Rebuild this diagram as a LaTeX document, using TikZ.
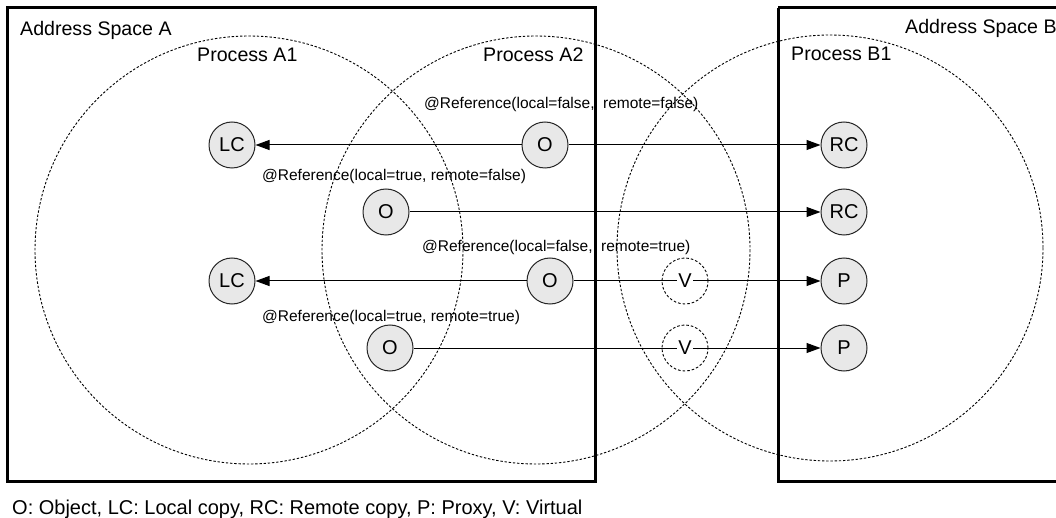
\documentclass[tikz,border=0pt]{standalone}
\usepackage{fontspec}
\setmainfont{Liberation Sans}
\usetikzlibrary{arrows.meta}
\begin{document}
\begin{tikzpicture}[x=1pt,y=-1pt,
  space/.style={draw=black,line width=3pt},
  proc/.style={draw=black,line width=0.9pt,dash pattern=on 2.4pt off 1.8pt},
  title/.style={anchor=base west,inner sep=0pt,font=\fontsize{19.6}{22}\selectfont},
  reflabel/.style={anchor=base west,inner sep=0pt,font=\fontsize{15.5}{18}\selectfont},
  obj/.style={circle,draw=black!85,line width=1pt,fill=black!9,minimum size=46pt,inner sep=0pt,font=\fontsize{20}{22}\selectfont},
  virtring/.style={circle,draw=black,line width=0.9pt,dash pattern=on 2.6pt off 2pt,minimum size=46pt,inner sep=0pt},
  virt/.style={inner sep=1.5pt,font=\fontsize{20}{22}\selectfont},
  conn/.style={draw=black,line width=1pt},
  arr/.style={conn,-{Triangle[length=14pt,width=10pt]}}]
\useasboundingbox (0,0) rectangle (1056,518);

% address spaces
\draw[space] (7,8) rectangle (595,481);
\draw[space] (778,8) -- (1060,8);
\draw[space] (778,8) -- (778,481) -- (1060,481);

% process boundaries
\draw[proc] (249,250) circle[radius=214];
\draw[proc] (536,250) circle[radius=214];
\draw[proc] (830,248) circle[radius=213];

% headings
\node[title] (asA) at (20,36) {Address Space A};
\node[title] (pA1) at (197,62) {Process A1};
\node[title] (pA2) at (483,62) {Process A2};
\node[title] (asB) at (905,34) {Address Space B};
\node[title] (pB1) at (791,61) {Process B1};

% objects
\node[obj] (lc1) at (232,145) {LC};
\node[obj] (o1)  at (545,145) {O};
\node[obj] (rc1) at (844,145) {RC};
\node[obj] (o2)  at (386,212) {O};
\node[obj] (rc2) at (844,212) {RC};
\node[obj] (lc3) at (232,281) {LC};
\node[obj] (o3)  at (550,281) {O};
\node[obj] (p3)  at (844,281) {P};
\node[obj] (o4)  at (390,348) {O};
\node[obj] (p4)  at (844,348) {P};

% virtual objects
\node[virtring] (v3ring) at (685,281) {};
\node[virt] (v3) at (685,281) {V};
\node[virtring] (v4ring) at (685,348) {};
\node[virt] (v4) at (685,348) {V};

% reference annotations
\node[reflabel] (r1) at (424,109) {@Reference(local=false,\ \ remote=false)};
\node[reflabel] (r2) at (262,181) {@Reference(local=true, remote=false)};
\node[reflabel] (r3) at (422,252) {@Reference(local=false,\ \ remote=true)};
\node[reflabel] (r4) at (262,321) {@Reference(local=true, remote=true)};

% references
\draw[arr] (o1) -- (lc1);
\draw[arr] (o1) -- (rc1);
\draw[arr] (o2) -- (rc2);
\draw[arr] (o3) -- (lc3);
\draw[conn] (o3) -- (v3);
\draw[arr] (v3) -- (p3);
\draw[conn] (o4) -- (v4);
\draw[arr] (v4) -- (p4);

% legend
\node[title,font=\fontsize{20}{22}\selectfont] (legend) at (12,514) {O: Object, LC: Local copy, RC: Remote copy, P: Proxy, V: Virtual};
\end{tikzpicture}
\end{document}
